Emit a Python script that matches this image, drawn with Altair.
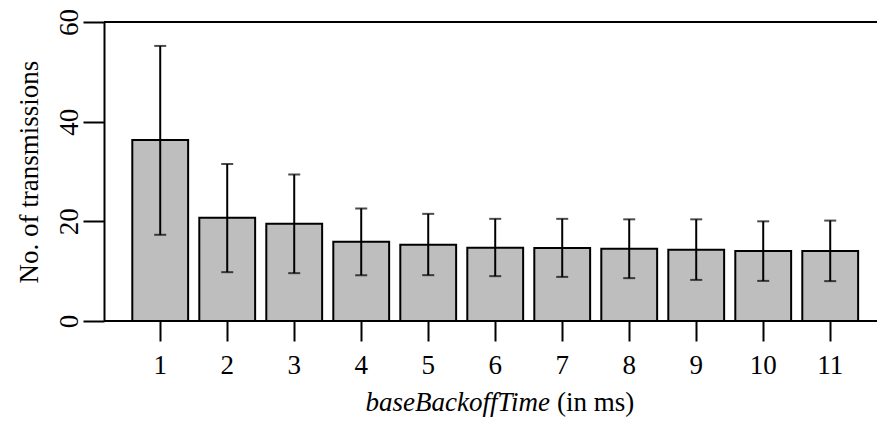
import altair as alt
import pandas as pd

categories = [1, 2, 3, 4, 5, 6, 7, 8, 9, 10, 11]
means = [36.3, 20.7, 19.5, 15.9, 15.3, 14.7, 14.65, 14.5, 14.3, 14.05, 14.05]
lower = [17.3, 9.8, 9.6, 9.2, 9.2, 9.0, 8.85, 8.6, 8.25, 8.05, 8.0]
upper = [55.2, 31.5, 29.4, 22.6, 21.5, 20.5, 20.5, 20.4, 20.4, 20.0, 20.15]
y_ticks = [0, 20, 40, 60]
frame_lines = [0, 60]
y_title = "No. of transmissions"
x_title_italic = "baseBackoffTime"
x_title_plain = "(in ms)"

FONT = "Liberation Serif"
FS = 27
W, H = 773, 299

df = pd.DataFrame({"cat": categories, "mean": means, "lo": lower, "hi": upper})

xscale = alt.Scale(domain=categories, paddingInner=1 / 6, paddingOuter=0.352, align=0.6)
yscale = alt.Scale(domain=[0, 60], nice=False, zero=True)

xaxis = alt.Axis(
    title=None, domain=False, ticks=True, tickSize=20, tickWidth=2, tickColor="black",
    labelFont=FONT, labelFontSize=FS, labelColor="black", labelAngle=0,
    labelBaseline="alphabetic", labelPadding=32, grid=False,
)
yaxis = alt.Axis(
    values=y_ticks, title=y_title, grid=False,
    domain=True, domainColor="black", domainWidth=2,
    ticks=True, tickSize=21, tickWidth=2, tickColor="black",
    labelFont=FONT, labelFontSize=FS, labelColor="black", labelAngle=270,
    labelAlign="center", labelBaseline="alphabetic", labelPadding=6,
    titleFont=FONT, titleFontSize=FS, titleFontWeight="normal", titleColor="black",
    titleAngle=270, titleAlign="center", titleBaseline="alphabetic",
    titleX=-67, titleY=H / 2,
)

base = alt.Chart(df)

bars = base.mark_bar(color="#bebebe", stroke="black", strokeWidth=2).encode(
    x=alt.X("cat:O", scale=xscale, axis=xaxis),
    y=alt.Y("mean:Q", scale=yscale, axis=yaxis),
)

err = base.mark_rule(color="black", strokeWidth=2).encode(
    x=alt.X("cat:O", scale=xscale),
    y=alt.Y("lo:Q", scale=yscale),
    y2="hi:Q",
)

cap_lo = base.mark_tick(color="black", thickness=2, size=12, orient="horizontal").encode(
    x=alt.X("cat:O", scale=xscale),
    y=alt.Y("lo:Q", scale=yscale),
)
cap_hi = base.mark_tick(color="black", thickness=2, size=12, orient="horizontal").encode(
    x=alt.X("cat:O", scale=xscale),
    y=alt.Y("hi:Q", scale=yscale),
)

lines = alt.Chart(pd.DataFrame({"v": frame_lines})).mark_rule(color="black", strokeWidth=2).encode(
    y=alt.Y("v:Q", scale=yscale),
    x=alt.value(0),
    x2=alt.value(W),
)

t1 = alt.Chart(pd.DataFrame({"t": [x_title_italic]})).mark_text(
    font=FONT, fontSize=FS, fontStyle="italic", align="right", baseline="alphabetic", color="black"
).encode(text="t:N", x=alt.value(446), y=alt.value(389))

t2 = alt.Chart(pd.DataFrame({"t": [x_title_plain]})).mark_text(
    font=FONT, fontSize=FS, align="left", baseline="alphabetic", color="black"
).encode(text="t:N", x=alt.value(453), y=alt.value(389))

chart = alt.layer(bars, lines, err, cap_lo, cap_hi, t1, t2).properties(
    width=W, height=H,
    autosize=alt.AutoSizeParams(type="none"),
    padding={"left": 104, "top": 22, "right": 0, "bottom": 100},
).configure(background="white", font=FONT).configure_view(stroke=None)

chart.save("out.html", embed_options={"renderer": "svg", "actions": False})
